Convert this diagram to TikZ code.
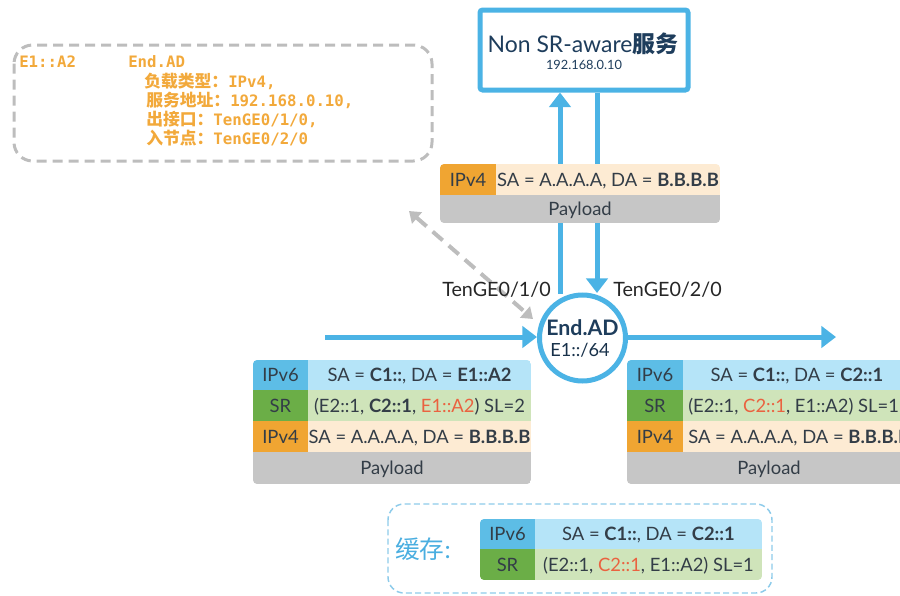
\documentclass[tikz,border=0pt]{standalone}
\usepackage{fontspec}
\setmainfont{Lato}
\newfontfamily\cjk{Noto Sans CJK SC}
\newfontfamily\monof{DejaVu Sans Mono}
\usetikzlibrary{arrows.meta}
\definecolor{lblue}{HTML}{4BB3E5}
\definecolor{navy}{HTML}{1E3D5C}
\definecolor{ora}{HTML}{F2A93B}
\definecolor{vsixl}{HTML}{5DBDE6}
\definecolor{vsixc}{HTML}{B5E4F8}
\definecolor{srl}{HTML}{6BAE47}
\definecolor{src}{HTML}{CFE4BA}
\definecolor{vfourl}{HTML}{F0A532}
\definecolor{vfourc}{HTML}{FDEBD3}
\definecolor{pay}{HTML}{C6C6C6}
\definecolor{redt}{HTML}{EA6240}
\definecolor{txt}{HTML}{333D47}
\definecolor{dashgrey}{HTML}{BDBDBD}
\definecolor{cacheblue}{HTML}{8DCBEA}
\definecolor{cachetxt}{HTML}{4AAEE0}
\tikzset{
  cell/.style={inner sep=0pt, text height=9.8pt, text depth=0pt, font=\fontsize{13.8}{16}\selectfont, text=txt},
  lbl/.style={inner sep=0pt, anchor=west, text=ora, font=\fontsize{11.8}{13}\selectfont\monof\bfseries},
  bluearrow/.style={draw=lblue, line width=3.75pt, -{Triangle[width=16pt,length=11pt]}},
  iface/.style={inner sep=0pt, font=\fontsize{14.8}{17}\selectfont, text=black!85},
}
\newcommand{\zh}[1]{{\fontsize{12.6}{14}\selectfont\cjk\bfseries #1}}
\begin{document}
\begin{tikzpicture}[x=0.75pt,y=-0.75pt]
\useasboundingbox (0,0) rectangle (900,596);
\clip (0,0) rectangle (900,596);

% info box (grey dashed)
\draw[dashgrey, line width=2.25pt, dash pattern=on 7.5pt off 4.5pt, rounded corners=14pt] (14,45) rectangle (432,161);
\node[lbl] (i1) at (19,62) {E1::A2};
\node[lbl] (i2) at (128,62) {End.AD};
\node[lbl] (i3) at (144,81) {\zh{负载类型：}IPv4,};
\node[lbl] (i4) at (146,100) {\zh{服务地址：}192.168.0.10,};
\node[lbl] (i5) at (146,119) {\zh{出接口：}TenGE0/1/0,};
\node[lbl] (i6) at (146,138) {\zh{入节点：}TenGE0/2/0};

% service box
\node[draw=lblue, line width=3.75pt, fill=white, rounded corners=2pt, minimum width=156pt, minimum height=60pt, inner sep=0pt] (svc) at (584,50) {};
\node[inner sep=0pt, text=navy, font=\fontsize{17.2}{19}\selectfont] (svct) at (583,44) {Non SR-aware{\cjk\bfseries 服务}};
\node[inner sep=0pt, text=navy, font=\fontsize{9.6}{11}\selectfont] (svcip) at (584,65) {192.168.0.10};

% node circle
\node[circle, draw=lblue, line width=3.75pt, fill=white, minimum size=64.5pt, inner sep=0pt] (ad) at (582.5,338) {};
\node[inner sep=0pt, text=navy, font=\fontsize{16}{18}\selectfont\bfseries] (adt) at (582.5,328) {End.AD};
\node[inner sep=0pt, text=navy!80!black, font=\fontsize{13.6}{15}\selectfont] (adp) at (580,350) {E1::/64};

% vertical arrows
\coordinate (upstart) at (560,294);
\coordinate (downend) at (597,293);
\draw[bluearrow] (upstart) -- (svc.south -| upstart);
\draw[bluearrow] (svc.south -| downend) -- (downend);

% horizontal arrows
\coordinate (inarrow) at (325,337);
\coordinate (outarrow) at (836,337);
\draw[bluearrow] (inarrow) -- (ad.west |- inarrow);
\draw[bluearrow] (ad.east |- outarrow) -- (outarrow);

% grey dashed double arrow
\coordinate (ga) at (409,211);
\coordinate (gb) at (533,319);
\draw[dashgrey, line width=3pt, dash pattern=on 10pt off 6pt, {Triangle[width=11pt,length=8pt]}-{Triangle[width=11pt,length=8pt]}] (ga) -- (gb);

% interface labels
\node[iface, anchor=east] (if1) at (551,290) {TenGE0/1/0};
\node[iface, anchor=west] (if2) at (613,290) {TenGE0/2/0};

% top stack
\begin{scope}
\clip[rounded corners=3pt] (440,164) rectangle (720,223);
\fill[vfourl] (440,164) rectangle (496,195);
\fill[vfourc] (496,164) rectangle (720,195);
\fill[pay] (440,195) rectangle (720,223);
\end{scope}
\node[cell] (t1) at (468,179.5) {IPv4};
\node[cell] (t2) at (608,179.5) {SA = A.A.A.A, DA = \textbf{B.B.B.B}};
\node[cell] (t3) at (580,209) {Payload};

% left stack
\begin{scope}
\clip[rounded corners=3pt] (253,360) rectangle (531,484);
\fill[vsixl] (253,360) rectangle (308,390);
\fill[vsixc] (308,360) rectangle (531,390);
\fill[srl] (253,390) rectangle (308,421);
\fill[src] (308,390) rectangle (531,421);
\fill[vfourl] (253,421) rectangle (308,452);
\fill[vfourc] (308,421) rectangle (531,452);
\fill[pay] (253,452) rectangle (531,484);
\end{scope}
\node[cell] (l1) at (280.5,375) {IPv6};
\node[cell] (l2) at (419.5,375) {SA = \textbf{C1::}, DA = \textbf{E1::A2}};
\node[cell] (l3) at (280.5,405.5) {SR};
\node[cell] (l4) at (419.5,405.5) {(E2::1, \textbf{C2::1}, \textcolor{redt}{E1::A2}) SL=2};
\node[cell] (l5) at (280.5,436.5) {IPv4};
\node[cell] (l6) at (419.5,436.5) {SA = A.A.A.A, DA = \textbf{B.B.B.B}};
\node[cell] (l7) at (392,468) {Payload};

% right stack
\begin{scope}
\clip[rounded corners=3pt] (627,360) rectangle (912,484);
\fill[vsixl] (627,360) rectangle (683,390);
\fill[vsixc] (683,360) rectangle (912,390);
\fill[srl] (627,390) rectangle (683,421);
\fill[src] (683,390) rectangle (912,421);
\fill[vfourl] (627,421) rectangle (683,452);
\fill[vfourc] (683,421) rectangle (912,452);
\fill[pay] (627,452) rectangle (912,484);
\end{scope}
\node[cell] (r1) at (655,375) {IPv6};
\node[cell] (r2) at (797,375) {SA = \textbf{C1::}, DA = \textbf{C2::1}};
\node[cell] (r3) at (655,405.5) {SR};
\node[cell, anchor=west] (r4) at (688,405.5) {(E2::1, \textcolor{redt}{C2::1}, E1::A2) SL=1};
\node[cell] (r5) at (655,436.5) {IPv4};
\node[cell, anchor=west] (r6) at (688,436.5) {SA = A.A.A.A, DA = \textbf{B.B.B.B}};
\node[cell] (r7) at (769,468) {Payload};

% cache box
\draw[cacheblue, line width=1.1pt, dash pattern=on 4.5pt off 2.5pt, rounded corners=12pt] (388,504) rectangle (772,593);
\node[inner sep=0pt, anchor=west, text=cachetxt, font=\fontsize{18.5}{20}\selectfont] (cachet) at (395,549) {{\cjk 缓存}:};
\begin{scope}
\clip[rounded corners=3pt] (480,519) rectangle (762,580);
\fill[vsixl] (480,519) rectangle (535,549);
\fill[vsixc] (535,519) rectangle (762,549);
\fill[srl] (480,549) rectangle (535,580);
\fill[src] (535,549) rectangle (762,580);
\end{scope}
\node[cell] (c1) at (507.5,534) {IPv6};
\node[cell] (c2) at (648.5,534) {SA = \textbf{C1::}, DA = \textbf{C2::1}};
\node[cell] (c3) at (507.5,564.5) {SR};
\node[cell] (c4) at (648.5,564.5) {(E2::1, \textcolor{redt}{C2::1}, E1::A2) SL=1};
\end{tikzpicture}
\end{document}
